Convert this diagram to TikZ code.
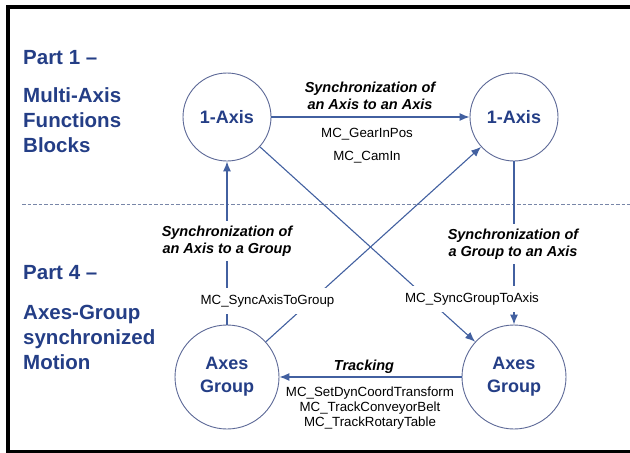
\documentclass[tikz,border=0pt]{standalone}
\usepackage{fontspec}
\setmainfont{Liberation Sans}
\usepackage{xcolor}
\usepackage{tikz}
\usetikzlibrary{shapes.geometric, arrows.meta, positioning}
\definecolor{titleblue}{RGB}{36,62,134}
\definecolor{lineblue}{RGB}{66,96,160}
\definecolor{ringgray}{RGB}{92,104,150}
\definecolor{dashgray}{RGB}{120,134,168}
\tikzstyle{axis} = [circle, draw=ringgray, line width=0.9pt, minimum size=88pt, inner sep=0pt, text=titleblue, align=center, font=\fontsize{18}{23}\selectfont\bfseries]
\tikzstyle{group} = [axis, minimum size=104pt]
\tikzstyle{part} = [anchor=west, inner sep=0pt, text=titleblue, align=left, font=\fontsize{20.5}{25}\selectfont\bfseries]
\tikzstyle{sync} = [fill=white, inner sep=4pt, align=center, font=\fontsize{14.5}{17.5}\selectfont\bfseries\itshape]
\tikzstyle{fb} = [fill=white, inner xsep=3pt, inner ysep=6.5pt, align=center, font=\fontsize{13.3}{15}\selectfont]
\tikzstyle{arrow} = [line width=1.1pt, draw=lineblue, ->, >={Latex[length=10pt,width=8pt]}]

\begin{document}
\begin{tikzpicture}[x=1pt, y=-1pt]
            \useasboundingbox (0,0) rectangle (630,453);
            % Frame and separator
            \draw [line width=4.3pt] (630,7.2) -- (8,7.2) -- (8,453);
            \draw [line width=4pt] (8,451.5) -- (630,451.5);
            \draw [dashgray, line width=0.7pt, dash pattern=on 3.5pt off 2pt] (22,204) -- (630,204);

            % Part titles
            \node [part] (part1) at (23,58) {Part 1 --};
            \node [part] (mafb) at (23,120) {Multi-Axis\\Functions\\Blocks};
            \node [part] (part4) at (23,273) {Part 4 --};
            \node [part] (agsm) at (23,337) {Axes-Group\\synchronized\\Motion};

            % Nodes
            \node [axis] (axis_a) at (227,117) {1-Axis};
            \node [axis] (axis_b) at (514,117) {1-Axis};
            \node [group] (group_a) at (227,377) {Axes\\Group};
            \node [group] (group_b) at (514,377) {Axes\\Group};

            % Arrows
            \draw [arrow] (axis_a) -- (axis_b);
            \draw [arrow] (group_a) -- (axis_a);
            \draw [arrow] (axis_b) -- (group_b);
            \draw [arrow] (axis_a) -- (group_b);
            \draw [arrow] (group_a) -- (axis_b);
            \draw [arrow] (group_b) -- (group_a);

            % Labels
            \node [sync, fill=none, inner sep=2pt] (ax2ax) at (370,96) {Synchronization of\\an Axis to an Axis};
            \node [fb, fill=none, font=\fontsize{13.3}{23}\selectfont] (gear) at (367,145.5) {MC\_GearInPos\\MC\_CamIn};
            \node [sync] (ax2grp) at (227,241) {Synchronization of\\an Axis to a Group};
            \node [sync] (grp2ax) at (513,244) {Synchronization of\\a Group to an Axis};
            \node [fb] (syncax) at (267.5,301) {MC\_SyncAxisToGroup};
            \node [fb] (syncgrp) at (472,299) {MC\_SyncGroupToAxis};
            \node [sync, fill=none, inner sep=1pt] (track) at (364,367) {Tracking};
            \node [fb, fill=none, inner sep=1pt] (trackfb) at (370,408) {MC\_SetDynCoordTransform\\MC\_TrackConveyorBelt\\MC\_TrackRotaryTable};
        \end{tikzpicture}
\end{document}
